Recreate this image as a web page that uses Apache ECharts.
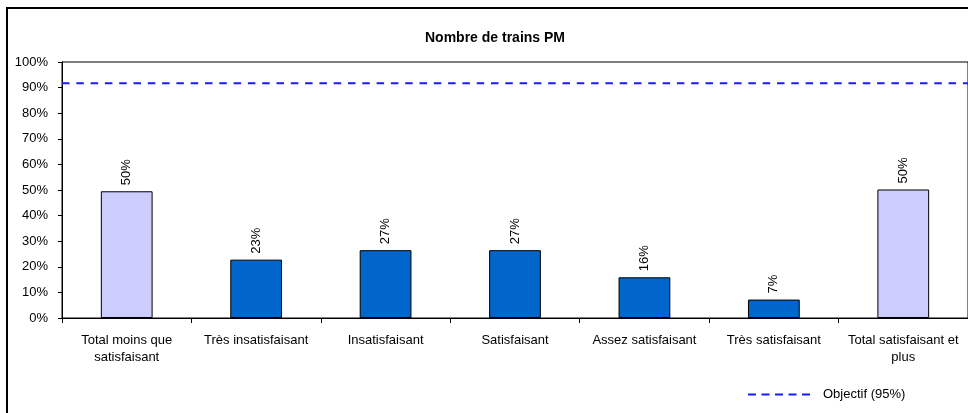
<!DOCTYPE html>
<html><head><meta charset="utf-8">
<script src="https://cdn.jsdelivr.net/npm/echarts@6/dist/echarts.min.js"></script>
<style>html,body{margin:0;padding:0;background:#fff}#c{width:968px;height:413px}</style>
</head><body><div id="c"></div>
<script>
const categories = ["Total moins que\nsatisfaisant", "Très insatisfaisant", "Insatisfaisant", "Satisfaisant", "Assez satisfaisant", "Très satisfaisant", "Total satisfaisant et\nplus"];
const values = [49.5, 22.8, 26.5, 26.5, 15.9, 7.2, 50.2];
const isTotal = [true, false, false, false, false, false, true];
const objectif = 91.7;
const objectifName = "Objectif (95%)";
const yTicks = [0,10,20,30,40,50,60,70,80,90,100];

const chart = echarts.init(document.getElementById('c'), null, {renderer:'canvas'});
const font = '"Liberation Sans", Arial, sans-serif';
const goalColor = '#1a1aff';
const dashIcon = 'path://M0,0h8v2h-8zM13.5,0h8v2h-8zM27,0h8v2h-8zM40.5,0h8v2h-8zM54,0h8v2h-8z';
chart.setOption({
  animation: false,
  title: { text: "Nombre de trains PM", left: 490, textAlign: 'center', top: 26,
    textStyle: { fontFamily: font, fontSize: 14, fontWeight: 'bold', color: '#000' } },
  graphic: [{ type: 'rect', shape: { x: 7, y: 8, width: 1000, height: 500 },
    style: { fill: 'none', stroke: '#000', lineWidth: 2 }, silent: true }],
  grid: { left: 62, top: 62, right: -6, bottom: 95, show: true, borderColor: '#000', borderWidth: 1, backgroundColor: 'transparent' },
  legend: { data: [{ name: objectifName, icon: dashIcon, itemStyle: { color: goalColor, borderWidth: 0 } }],
    left: 743, top: 383, itemWidth: 62, itemHeight: 2,
    textStyle: { fontFamily: font, fontSize: 13, color: '#000', padding: [0,0,0,8] } },
  xAxis: [{ type: 'category', data: categories,
    axisLine: { lineStyle: { color: '#000', width: 1 } },
    axisTick: { show: true, interval: 0, length: 5, lineStyle: { color: '#000' } },
    axisLabel: { interval: 0, fontFamily: font, fontSize: 13, color: '#000', margin: 14, lineHeight: 17 } },
    { type: 'value', min: 0, max: 1, show: false }],
  yAxis: { type: 'value', min: yTicks[0], max: yTicks[yTicks.length-1], interval: 10,
    axisLine: { show: true, lineStyle: { color: '#000' } },
    axisTick: { show: true, length: 4, lineStyle: { color: '#000' } },
    splitLine: { show: false },
    axisLabel: { formatter: '{value}%', fontFamily: font, fontSize: 13, color: '#000', margin: 14 } },
  series: [
    { type: 'bar', barWidth: '40%', xAxisIndex: 0,
      data: values.map((v, i) => ({ value: v, itemStyle: { color: isTotal[i] ? '#CCCCFF' : '#0066CC' } })),
      itemStyle: { borderColor: '#000', borderWidth: 1 },
      label: { show: true, position: 'top', rotate: 90, align: 'left', verticalAlign: 'middle', distance: 6,
        formatter: p => Math.round(p.value) + '%', fontFamily: font, fontSize: 13, color: '#000' } },
    { type: 'line', name: objectifName, xAxisIndex: 1, data: [[0, objectif], [1, objectif]],
      symbol: 'none', showSymbol: false, color: goalColor,
      lineStyle: { color: goalColor, width: 2, type: [7.5, 6.8] } }
  ]
});
</script></body></html>
